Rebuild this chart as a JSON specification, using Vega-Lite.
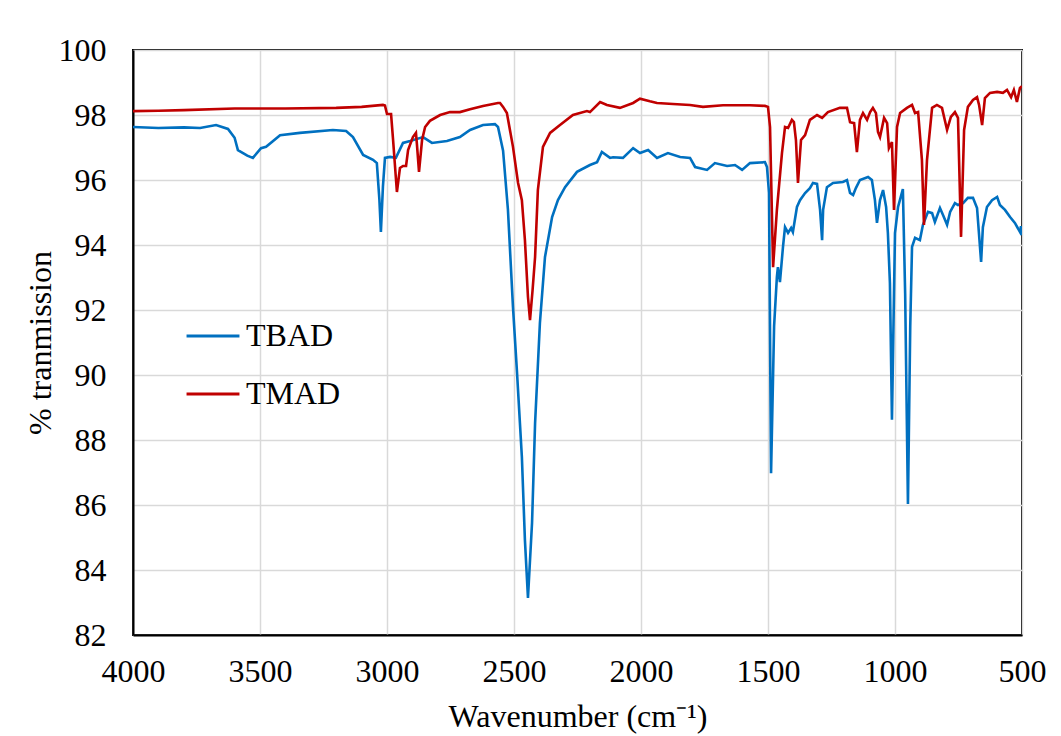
{
  "$schema": "https://vega.github.io/schema/vega-lite/v6.json",
  "width": 889,
  "height": 585,
  "autosize": {"type": "none"},
  "padding": {"left": 133, "top": 50, "right": 39, "bottom": 101},
  "background": "white",
  "config": {
    "font": "Liberation Serif",
    "view": {"stroke": "black", "strokeWidth": 2},
    "axis": {
      "labelFont": "Liberation Serif",
      "titleFont": "Liberation Serif",
      "labelFontSize": 32,
      "titleFontSize": 32,
      "labelColor": "black",
      "titleColor": "black",
      "titleFontWeight": "normal",
      "ticks": false,
      "domainColor": "black",
      "domainWidth": 2,
      "gridColor": "#D9D9D9",
      "gridWidth": 1.5
    },
    "legend": {
      "labelFont": "Liberation Serif",
      "labelFontSize": 32,
      "labelColor": "black"
    }
  },
  "data": {
    "values": [
      {"w": 4000, "t": 97.63, "s": "TBAD"},
      {"w": 3900, "t": 97.6, "s": "TBAD"},
      {"w": 3800, "t": 97.62, "s": "TBAD"},
      {"w": 3736, "t": 97.6, "s": "TBAD"},
      {"w": 3673, "t": 97.69, "s": "TBAD"},
      {"w": 3626, "t": 97.57, "s": "TBAD"},
      {"w": 3600, "t": 97.3, "s": "TBAD"},
      {"w": 3587, "t": 96.92, "s": "TBAD"},
      {"w": 3550, "t": 96.75, "s": "TBAD"},
      {"w": 3528, "t": 96.68, "s": "TBAD"},
      {"w": 3496, "t": 96.98, "s": "TBAD"},
      {"w": 3476, "t": 97.02, "s": "TBAD"},
      {"w": 3421, "t": 97.38, "s": "TBAD"},
      {"w": 3343, "t": 97.45, "s": "TBAD"},
      {"w": 3213, "t": 97.54, "s": "TBAD"},
      {"w": 3161, "t": 97.51, "s": "TBAD"},
      {"w": 3134, "t": 97.32, "s": "TBAD"},
      {"w": 3094, "t": 96.77, "s": "TBAD"},
      {"w": 3055, "t": 96.62, "s": "TBAD"},
      {"w": 3040, "t": 96.52, "s": "TBAD"},
      {"w": 3030, "t": 95.4, "s": "TBAD"},
      {"w": 3024, "t": 94.4, "s": "TBAD"},
      {"w": 3016, "t": 95.8, "s": "TBAD"},
      {"w": 3008, "t": 96.68, "s": "TBAD"},
      {"w": 2988, "t": 96.71, "s": "TBAD"},
      {"w": 2965, "t": 96.68, "s": "TBAD"},
      {"w": 2937, "t": 97.14, "s": "TBAD"},
      {"w": 2909, "t": 97.2, "s": "TBAD"},
      {"w": 2858, "t": 97.32, "s": "TBAD"},
      {"w": 2823, "t": 97.14, "s": "TBAD"},
      {"w": 2764, "t": 97.2, "s": "TBAD"},
      {"w": 2713, "t": 97.32, "s": "TBAD"},
      {"w": 2673, "t": 97.54, "s": "TBAD"},
      {"w": 2622, "t": 97.69, "s": "TBAD"},
      {"w": 2575, "t": 97.72, "s": "TBAD"},
      {"w": 2563, "t": 97.63, "s": "TBAD"},
      {"w": 2543, "t": 96.9, "s": "TBAD"},
      {"w": 2524, "t": 95.1, "s": "TBAD"},
      {"w": 2504, "t": 92.09, "s": "TBAD"},
      {"w": 2488, "t": 90.06, "s": "TBAD"},
      {"w": 2469, "t": 87.48, "s": "TBAD"},
      {"w": 2457, "t": 84.92, "s": "TBAD"},
      {"w": 2445, "t": 83.14, "s": "TBAD"},
      {"w": 2429, "t": 85.45, "s": "TBAD"},
      {"w": 2417, "t": 88.52, "s": "TBAD"},
      {"w": 2398, "t": 91.6, "s": "TBAD"},
      {"w": 2378, "t": 93.63, "s": "TBAD"},
      {"w": 2350, "t": 94.86, "s": "TBAD"},
      {"w": 2327, "t": 95.38, "s": "TBAD"},
      {"w": 2299, "t": 95.78, "s": "TBAD"},
      {"w": 2252, "t": 96.25, "s": "TBAD"},
      {"w": 2201, "t": 96.46, "s": "TBAD"},
      {"w": 2173, "t": 96.55, "s": "TBAD"},
      {"w": 2154, "t": 96.86, "s": "TBAD"},
      {"w": 2122, "t": 96.68, "s": "TBAD"},
      {"w": 2110, "t": 96.7, "s": "TBAD"},
      {"w": 2071, "t": 96.68, "s": "TBAD"},
      {"w": 2031, "t": 96.98, "s": "TBAD"},
      {"w": 2004, "t": 96.83, "s": "TBAD"},
      {"w": 1972, "t": 96.92, "s": "TBAD"},
      {"w": 1937, "t": 96.68, "s": "TBAD"},
      {"w": 1894, "t": 96.83, "s": "TBAD"},
      {"w": 1846, "t": 96.71, "s": "TBAD"},
      {"w": 1807, "t": 96.68, "s": "TBAD"},
      {"w": 1787, "t": 96.4, "s": "TBAD"},
      {"w": 1740, "t": 96.31, "s": "TBAD"},
      {"w": 1709, "t": 96.52, "s": "TBAD"},
      {"w": 1661, "t": 96.43, "s": "TBAD"},
      {"w": 1630, "t": 96.46, "s": "TBAD"},
      {"w": 1602, "t": 96.31, "s": "TBAD"},
      {"w": 1571, "t": 96.52, "s": "TBAD"},
      {"w": 1512, "t": 96.55, "s": "TBAD"},
      {"w": 1504, "t": 96.4, "s": "TBAD"},
      {"w": 1496, "t": 95.6, "s": "TBAD"},
      {"w": 1488, "t": 86.98, "s": "TBAD"},
      {"w": 1476, "t": 91.5, "s": "TBAD"},
      {"w": 1465, "t": 93.02, "s": "TBAD"},
      {"w": 1461, "t": 93.32, "s": "TBAD"},
      {"w": 1453, "t": 92.86, "s": "TBAD"},
      {"w": 1441, "t": 93.94, "s": "TBAD"},
      {"w": 1433, "t": 94.55, "s": "TBAD"},
      {"w": 1421, "t": 94.37, "s": "TBAD"},
      {"w": 1409, "t": 94.52, "s": "TBAD"},
      {"w": 1402, "t": 94.4, "s": "TBAD"},
      {"w": 1386, "t": 95.17, "s": "TBAD"},
      {"w": 1374, "t": 95.38, "s": "TBAD"},
      {"w": 1354, "t": 95.6, "s": "TBAD"},
      {"w": 1335, "t": 95.75, "s": "TBAD"},
      {"w": 1323, "t": 95.91, "s": "TBAD"},
      {"w": 1307, "t": 95.88, "s": "TBAD"},
      {"w": 1295, "t": 95.08, "s": "TBAD"},
      {"w": 1287, "t": 94.15, "s": "TBAD"},
      {"w": 1283, "t": 95.08, "s": "TBAD"},
      {"w": 1268, "t": 95.78, "s": "TBAD"},
      {"w": 1244, "t": 95.91, "s": "TBAD"},
      {"w": 1205, "t": 95.94, "s": "TBAD"},
      {"w": 1189, "t": 96.0, "s": "TBAD"},
      {"w": 1177, "t": 95.6, "s": "TBAD"},
      {"w": 1165, "t": 95.54, "s": "TBAD"},
      {"w": 1154, "t": 95.75, "s": "TBAD"},
      {"w": 1138, "t": 96.0, "s": "TBAD"},
      {"w": 1106, "t": 96.09, "s": "TBAD"},
      {"w": 1091, "t": 96.0, "s": "TBAD"},
      {"w": 1079, "t": 95.38, "s": "TBAD"},
      {"w": 1071, "t": 94.68, "s": "TBAD"},
      {"w": 1059, "t": 95.38, "s": "TBAD"},
      {"w": 1047, "t": 95.69, "s": "TBAD"},
      {"w": 1035, "t": 95.17, "s": "TBAD"},
      {"w": 1028, "t": 94.37, "s": "TBAD"},
      {"w": 1020, "t": 92.83, "s": "TBAD"},
      {"w": 1012, "t": 88.62, "s": "TBAD"},
      {"w": 1004, "t": 92.5, "s": "TBAD"},
      {"w": 1000, "t": 94.37, "s": "TBAD"},
      {"w": 988, "t": 95.17, "s": "TBAD"},
      {"w": 969, "t": 95.72, "s": "TBAD"},
      {"w": 960, "t": 92.5, "s": "TBAD"},
      {"w": 949, "t": 86.03, "s": "TBAD"},
      {"w": 940, "t": 91.5, "s": "TBAD"},
      {"w": 933, "t": 93.94, "s": "TBAD"},
      {"w": 921, "t": 94.22, "s": "TBAD"},
      {"w": 902, "t": 94.15, "s": "TBAD"},
      {"w": 890, "t": 94.62, "s": "TBAD"},
      {"w": 870, "t": 95.02, "s": "TBAD"},
      {"w": 854, "t": 94.98, "s": "TBAD"},
      {"w": 843, "t": 94.71, "s": "TBAD"},
      {"w": 823, "t": 95.14, "s": "TBAD"},
      {"w": 811, "t": 94.92, "s": "TBAD"},
      {"w": 795, "t": 94.62, "s": "TBAD"},
      {"w": 783, "t": 95.02, "s": "TBAD"},
      {"w": 764, "t": 95.29, "s": "TBAD"},
      {"w": 752, "t": 95.23, "s": "TBAD"},
      {"w": 732, "t": 95.29, "s": "TBAD"},
      {"w": 713, "t": 95.45, "s": "TBAD"},
      {"w": 693, "t": 95.45, "s": "TBAD"},
      {"w": 677, "t": 95.14, "s": "TBAD"},
      {"w": 661, "t": 93.48, "s": "TBAD"},
      {"w": 654, "t": 94.55, "s": "TBAD"},
      {"w": 638, "t": 95.17, "s": "TBAD"},
      {"w": 618, "t": 95.38, "s": "TBAD"},
      {"w": 598, "t": 95.48, "s": "TBAD"},
      {"w": 587, "t": 95.23, "s": "TBAD"},
      {"w": 567, "t": 95.08, "s": "TBAD"},
      {"w": 547, "t": 94.86, "s": "TBAD"},
      {"w": 528, "t": 94.68, "s": "TBAD"},
      {"w": 508, "t": 94.4, "s": "TBAD"},
      {"w": 504, "t": 94.58, "s": "TBAD"},
      {"w": 502, "t": 94.3, "s": "TBAD"},
      {"w": 500, "t": 94.55, "s": "TBAD"},

      {"w": 4000, "t": 98.12, "s": "TMAD"},
      {"w": 3900, "t": 98.13, "s": "TMAD"},
      {"w": 3800, "t": 98.15, "s": "TMAD"},
      {"w": 3600, "t": 98.2, "s": "TMAD"},
      {"w": 3400, "t": 98.2, "s": "TMAD"},
      {"w": 3200, "t": 98.22, "s": "TMAD"},
      {"w": 3100, "t": 98.25, "s": "TMAD"},
      {"w": 3016, "t": 98.31, "s": "TMAD"},
      {"w": 3008, "t": 98.29, "s": "TMAD"},
      {"w": 3000, "t": 98.03, "s": "TMAD"},
      {"w": 2984, "t": 98.03, "s": "TMAD"},
      {"w": 2976, "t": 97.23, "s": "TMAD"},
      {"w": 2961, "t": 95.63, "s": "TMAD"},
      {"w": 2949, "t": 96.37, "s": "TMAD"},
      {"w": 2937, "t": 96.43, "s": "TMAD"},
      {"w": 2925, "t": 96.43, "s": "TMAD"},
      {"w": 2917, "t": 96.92, "s": "TMAD"},
      {"w": 2898, "t": 97.32, "s": "TMAD"},
      {"w": 2886, "t": 97.45, "s": "TMAD"},
      {"w": 2882, "t": 97.08, "s": "TMAD"},
      {"w": 2874, "t": 96.25, "s": "TMAD"},
      {"w": 2862, "t": 97.23, "s": "TMAD"},
      {"w": 2850, "t": 97.63, "s": "TMAD"},
      {"w": 2831, "t": 97.82, "s": "TMAD"},
      {"w": 2791, "t": 98.0, "s": "TMAD"},
      {"w": 2752, "t": 98.09, "s": "TMAD"},
      {"w": 2713, "t": 98.09, "s": "TMAD"},
      {"w": 2673, "t": 98.18, "s": "TMAD"},
      {"w": 2622, "t": 98.28, "s": "TMAD"},
      {"w": 2563, "t": 98.37, "s": "TMAD"},
      {"w": 2555, "t": 98.37, "s": "TMAD"},
      {"w": 2543, "t": 98.25, "s": "TMAD"},
      {"w": 2528, "t": 98.06, "s": "TMAD"},
      {"w": 2504, "t": 97.02, "s": "TMAD"},
      {"w": 2484, "t": 95.91, "s": "TMAD"},
      {"w": 2469, "t": 95.38, "s": "TMAD"},
      {"w": 2457, "t": 94.15, "s": "TMAD"},
      {"w": 2445, "t": 92.4, "s": "TMAD"},
      {"w": 2437, "t": 91.69, "s": "TMAD"},
      {"w": 2427, "t": 92.6, "s": "TMAD"},
      {"w": 2417, "t": 93.63, "s": "TMAD"},
      {"w": 2406, "t": 95.69, "s": "TMAD"},
      {"w": 2386, "t": 97.02, "s": "TMAD"},
      {"w": 2358, "t": 97.45, "s": "TMAD"},
      {"w": 2319, "t": 97.69, "s": "TMAD"},
      {"w": 2268, "t": 98.0, "s": "TMAD"},
      {"w": 2213, "t": 98.12, "s": "TMAD"},
      {"w": 2201, "t": 98.09, "s": "TMAD"},
      {"w": 2161, "t": 98.4, "s": "TMAD"},
      {"w": 2134, "t": 98.31, "s": "TMAD"},
      {"w": 2083, "t": 98.22, "s": "TMAD"},
      {"w": 2031, "t": 98.37, "s": "TMAD"},
      {"w": 2004, "t": 98.5, "s": "TMAD"},
      {"w": 1965, "t": 98.42, "s": "TMAD"},
      {"w": 1937, "t": 98.37, "s": "TMAD"},
      {"w": 1874, "t": 98.34, "s": "TMAD"},
      {"w": 1807, "t": 98.31, "s": "TMAD"},
      {"w": 1756, "t": 98.25, "s": "TMAD"},
      {"w": 1677, "t": 98.3, "s": "TMAD"},
      {"w": 1571, "t": 98.3, "s": "TMAD"},
      {"w": 1512, "t": 98.28, "s": "TMAD"},
      {"w": 1500, "t": 98.25, "s": "TMAD"},
      {"w": 1492, "t": 97.63, "s": "TMAD"},
      {"w": 1480, "t": 93.32, "s": "TMAD"},
      {"w": 1465, "t": 95.08, "s": "TMAD"},
      {"w": 1445, "t": 96.83, "s": "TMAD"},
      {"w": 1433, "t": 97.63, "s": "TMAD"},
      {"w": 1421, "t": 97.6, "s": "TMAD"},
      {"w": 1406, "t": 97.85, "s": "TMAD"},
      {"w": 1398, "t": 97.78, "s": "TMAD"},
      {"w": 1390, "t": 97.23, "s": "TMAD"},
      {"w": 1382, "t": 95.91, "s": "TMAD"},
      {"w": 1370, "t": 97.23, "s": "TMAD"},
      {"w": 1354, "t": 97.38, "s": "TMAD"},
      {"w": 1335, "t": 97.85, "s": "TMAD"},
      {"w": 1307, "t": 98.0, "s": "TMAD"},
      {"w": 1287, "t": 97.91, "s": "TMAD"},
      {"w": 1264, "t": 98.09, "s": "TMAD"},
      {"w": 1217, "t": 98.22, "s": "TMAD"},
      {"w": 1189, "t": 98.22, "s": "TMAD"},
      {"w": 1177, "t": 97.78, "s": "TMAD"},
      {"w": 1161, "t": 97.75, "s": "TMAD"},
      {"w": 1150, "t": 96.86, "s": "TMAD"},
      {"w": 1138, "t": 97.85, "s": "TMAD"},
      {"w": 1126, "t": 98.06, "s": "TMAD"},
      {"w": 1110, "t": 97.85, "s": "TMAD"},
      {"w": 1098, "t": 98.09, "s": "TMAD"},
      {"w": 1087, "t": 98.22, "s": "TMAD"},
      {"w": 1075, "t": 98.06, "s": "TMAD"},
      {"w": 1067, "t": 97.48, "s": "TMAD"},
      {"w": 1059, "t": 97.32, "s": "TMAD"},
      {"w": 1043, "t": 97.91, "s": "TMAD"},
      {"w": 1031, "t": 97.75, "s": "TMAD"},
      {"w": 1024, "t": 96.98, "s": "TMAD"},
      {"w": 1012, "t": 97.17, "s": "TMAD"},
      {"w": 1004, "t": 95.08, "s": "TMAD"},
      {"w": 992, "t": 97.63, "s": "TMAD"},
      {"w": 980, "t": 98.06, "s": "TMAD"},
      {"w": 953, "t": 98.22, "s": "TMAD"},
      {"w": 933, "t": 98.31, "s": "TMAD"},
      {"w": 921, "t": 98.06, "s": "TMAD"},
      {"w": 909, "t": 98.09, "s": "TMAD"},
      {"w": 894, "t": 96.62, "s": "TMAD"},
      {"w": 886, "t": 94.62, "s": "TMAD"},
      {"w": 874, "t": 96.62, "s": "TMAD"},
      {"w": 854, "t": 98.22, "s": "TMAD"},
      {"w": 835, "t": 98.31, "s": "TMAD"},
      {"w": 815, "t": 98.22, "s": "TMAD"},
      {"w": 795, "t": 97.54, "s": "TMAD"},
      {"w": 780, "t": 97.94, "s": "TMAD"},
      {"w": 764, "t": 98.09, "s": "TMAD"},
      {"w": 752, "t": 97.91, "s": "TMAD"},
      {"w": 740, "t": 94.25, "s": "TMAD"},
      {"w": 728, "t": 97.54, "s": "TMAD"},
      {"w": 713, "t": 98.25, "s": "TMAD"},
      {"w": 693, "t": 98.46, "s": "TMAD"},
      {"w": 677, "t": 98.55, "s": "TMAD"},
      {"w": 669, "t": 98.31, "s": "TMAD"},
      {"w": 657, "t": 97.69, "s": "TMAD"},
      {"w": 646, "t": 98.52, "s": "TMAD"},
      {"w": 626, "t": 98.68, "s": "TMAD"},
      {"w": 598, "t": 98.71, "s": "TMAD"},
      {"w": 575, "t": 98.68, "s": "TMAD"},
      {"w": 559, "t": 98.77, "s": "TMAD"},
      {"w": 543, "t": 98.55, "s": "TMAD"},
      {"w": 532, "t": 98.77, "s": "TMAD"},
      {"w": 520, "t": 98.4, "s": "TMAD"},
      {"w": 508, "t": 98.83, "s": "TMAD"},
      {"w": 500, "t": 98.89, "s": "TMAD"}
    ]
  },
  "mark": {"type": "line", "strokeWidth": 2.6, "clip": true},
  "encoding": {
    "x": {
      "field": "w",
      "type": "quantitative",
      "scale": {"domain": [500, 4000], "reverse": true, "nice": false, "zero": false},
      "axis": {
        "values": [500, 1000, 1500, 2000, 2500, 3000, 3500, 4000],
        "format": "d",
        "title": "Wavenumber (cm⁻¹)",
        "labelPadding": 21,
        "titlePadding": 14,
        "labelFlush": false
      }
    },
    "y": {
      "field": "t",
      "type": "quantitative",
      "scale": {"domain": [82, 100], "nice": false, "zero": false},
      "axis": {
        "values": [82, 84, 86, 88, 90, 92, 94, 96, 98, 100],
        "format": "d",
        "title": "% tranmission",
        "labelPadding": 27,
        "titlePadding": 1,
        "labelFlush": false
      }
    },
    "color": {
      "field": "s",
      "type": "nominal",
      "scale": {"domain": ["TBAD", "TMAD"], "range": ["#0070C0", "#C00000"]},
      "legend": {
        "title": null,
        "orient": "none",
        "legendX": 52,
        "legendY": 258,
        "symbolType": "stroke",
        "symbolSize": 2800,
        "symbolStrokeWidth": 3,
        "labelOffset": 5,
        "rowPadding": 14,
        "padding": 0
      }
    }
  }
}
